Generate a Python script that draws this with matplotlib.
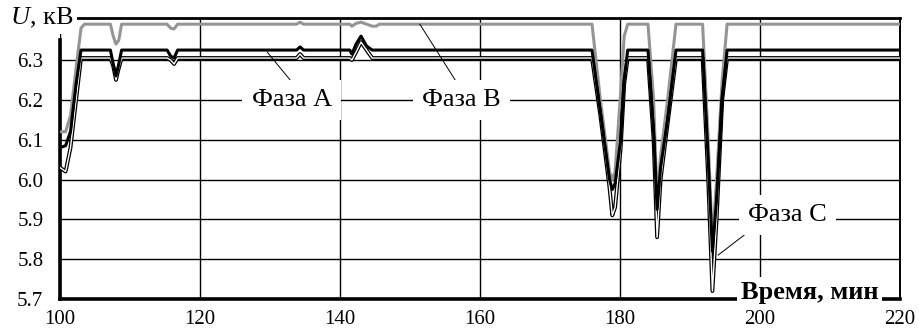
import numpy as np
import matplotlib
matplotlib.use("Agg")
import matplotlib.pyplot as plt

# time, min
t = [100, 100.8, 101.5, 102.3, 103, 103.5,
     107.2, 107.6, 108, 108.4, 108.8,
     115.3, 115.8, 116.3, 116.8,
     133.8, 134.3, 134.8,
     141.4, 141.7, 142.3, 143, 143.8, 144.6, 145.2, 145.6,
     176, 177.2, 178.5, 178.9, 179.3, 180.1, 180.6, 181.1,
     184, 184.8, 185.3, 185.8, 186.8, 188,
     191.8, 192.6, 193.2, 193.8, 194.6, 195.3, 220]

# voltage, kV
phase_a = [6.08, 6.085, 6.12, 6.24, 6.325, 6.325,
           6.325, 6.29, 6.26, 6.29, 6.325,
           6.325, 6.31, 6.305, 6.325,
           6.325, 6.333, 6.325,
           6.325, 6.315, 6.34, 6.36, 6.335, 6.325, 6.325, 6.325,
           6.325, 6.17, 6.0, 5.975, 5.99, 6.1, 6.25, 6.325,
           6.325, 6.12, 5.925, 6.03, 6.15, 6.325,
           6.325, 6.05, 5.82, 5.95, 6.2, 6.325, 6.325]
phase_b = [6.12, 6.12, 6.16, 6.28, 6.38, 6.39,
           6.39, 6.36, 6.34, 6.35, 6.39,
           6.39, 6.38, 6.378, 6.39,
           6.39, 6.395, 6.39,
           6.39, 6.385, 6.392, 6.395, 6.39, 6.385, 6.385, 6.39,
           6.39, 6.2, 6.02, 6.0, 6.02, 6.22, 6.36, 6.39,
           6.39, 6.2, 5.95, 6.06, 6.2, 6.39,
           6.39, 6.1, 5.84, 6.0, 6.25, 6.39, 6.39]
phase_c = [6.03, 6.02, 6.08, 6.2, 6.305, 6.305,
           6.305, 6.285, 6.25, 6.28, 6.305,
           6.305, 6.3, 6.29, 6.305,
           6.305, 6.315, 6.305,
           6.305, 6.3, 6.32, 6.345, 6.325, 6.305, 6.305, 6.305,
           6.305, 6.16, 5.98, 5.91, 5.93, 6.08, 6.24, 6.305,
           6.305, 6.1, 5.855, 6.0, 6.14, 6.305,
           6.305, 6.0, 5.72, 5.9, 6.2, 6.305, 6.305]

xticks = [100, 120, 140, 160, 180, 200, 220]
yticks = [5.7, 5.8, 5.9, 6.0, 6.1, 6.2, 6.3]

plt.rcParams['font.family'] = ['Liberation Serif', 'DejaVu Serif']
plt.rcParams['mathtext.fontset'] = 'custom'
plt.rcParams['mathtext.rm'] = 'Liberation Serif'
plt.rcParams['mathtext.it'] = 'Liberation Serif:italic'

fig = plt.figure(figsize=(9.19, 3.32), dpi=100)
ax = fig.add_axes([60 / 919, 33 / 332, 840 / 919, 281 / 332])
ax.set_xlim(100, 220)
ax.set_ylim(5.7, 6.4055)

ax.set_xticks(xticks)
ax.set_yticks(yticks)
ax.set_yticklabels(['%.1f' % v for v in yticks])
ax.tick_params(length=0, labelsize=15)
ax.tick_params(axis='y', pad=12)
ax.tick_params(axis='x', pad=8)
ax.grid(True, color='black', lw=1.0)
ax.set_axisbelow(True)

for s in ['left', 'bottom']:
    ax.spines[s].set_linewidth(2.6)
ax.spines['top'].set_linewidth(2.0)
ax.spines['right'].set_linewidth(1.4)
ax.spines['left'].set_bounds(5.7, 6.35)

ax.plot(t, phase_b, color='#959595', lw=2.2, zorder=3)
ax.plot(t, phase_c, color='black', lw=2.8, zorder=3)
ax.plot(t, phase_c, color='white', lw=1.0, zorder=3)
ax.plot(t, phase_a, color='black', lw=2.2, zorder=4)

box = dict(boxstyle='square,pad=0.35', fc='white', ec='none')
lab = dict(fontsize=19, ha='center', va='center', zorder=10, bbox=box)
ax.text(133.1, 6.2, 'Фаза А', **lab)
ax.text(157.4, 6.2, 'Фаза В', **lab)
ax.text(203.9, 5.911, 'Фаза С', **lab)

lead = dict(arrowprops=dict(arrowstyle='-', color='black', lw=0.7,
                            shrinkA=0, shrinkB=0), zorder=9)
ax.annotate('', xy=(129.6, 6.32), xytext=(133.1, 6.245), **lead)
ax.annotate('', xy=(151.4, 6.39), xytext=(156.7, 6.243), **lead)
ax.annotate('', xy=(194.0, 5.81), xytext=(198.3, 5.868), **lead)

ax.text(207.1, 5.717, 'Время, мин', fontsize=19, fontweight='bold',
        ha='center', va='center', zorder=10, clip_on=False,
        bbox=dict(boxstyle='square,pad=0.15', fc='white', ec='none'))
ax.text(101.9, 6.4055, '$U$, кВ', fontsize=19, ha='right',
        va='center', zorder=10, clip_on=False,
        bbox=dict(boxstyle='square,pad=0.15', fc='white', ec='none'))

fig.savefig('out.png', dpi=100)
